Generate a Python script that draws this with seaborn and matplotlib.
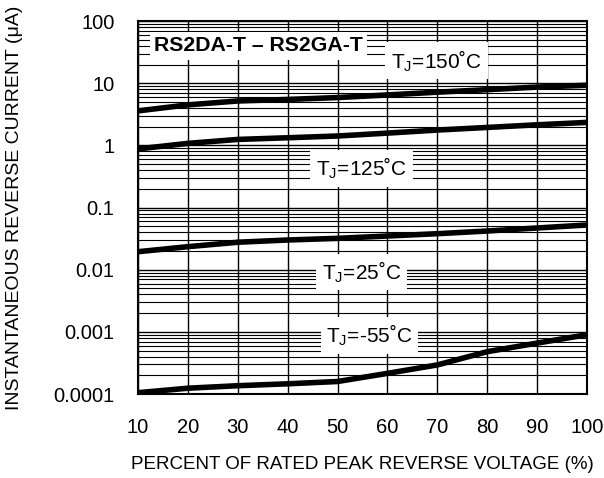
import matplotlib
matplotlib.use("Agg")
import matplotlib.pyplot as plt
import seaborn as sns
import pandas as pd
import numpy as np
from matplotlib.ticker import LogLocator, FixedLocator, NullFormatter

# ---- data ----
voltage_pct = [10, 20, 30, 40, 50, 60, 70, 80, 90, 100]
i_150 = [3.6, 4.5, 5.2, 5.5, 5.9, 6.5, 7.2, 7.9, 8.7, 9.3]
i_125 = [0.88, 1.08, 1.25, 1.33, 1.42, 1.58, 1.77, 1.95, 2.15, 2.35]
i_25 = [0.0195, 0.0235, 0.0277, 0.0301, 0.032, 0.0349, 0.038, 0.042, 0.047, 0.0525]
i_m55 = [0.000105, 0.000124, 0.000136, 0.000146, 0.000159, 0.000215, 0.000294, 0.00048, 0.00066, 0.0009]
series_names = ["150", "125", "25", "-55"]
x_ticks = [10, 20, 30, 40, 50, 60, 70, 80, 90, 100]
y_ticks = [0.0001, 0.001, 0.01, 0.1, 1, 10, 100]
y_tick_labels = ["0.0001", "0.001", "0.01", "0.1", "1", "10", "100"]

df = pd.concat([
    pd.DataFrame({"V": voltage_pct, "I": vals, "T": name})
    for name, vals in zip(series_names, [i_150, i_125, i_25, i_m55])
])

sns.set_style("white")
plt.rcParams["font.family"] = ["Liberation Sans", "DejaVu Sans"]
plt.rcParams["mathtext.fontset"] = "custom"
plt.rcParams["mathtext.rm"] = "Liberation Sans"
plt.rcParams["text.color"] = "black"
plt.rcParams["axes.labelcolor"] = "black"
plt.rcParams["xtick.color"] = "black"
plt.rcParams["ytick.color"] = "black"

fig = plt.figure(figsize=(6.04, 4.78), dpi=100)
ax = fig.add_axes([0.2285, 0.1757, 0.7435, 0.780])

sns.lineplot(data=df, x="V", y="I", hue="T", palette=["black"] * 4,
             linewidth=4.0, legend=False, ax=ax, zorder=3)
for ln in ax.get_lines():
    ln.set_solid_capstyle("butt")

ax.set_yscale("log")
ax.set_xlim(10, 100)
ax.set_ylim(1e-4, 100)
ax.xaxis.set_major_locator(FixedLocator(x_ticks))
ax.set_xticklabels([str(t) for t in x_ticks])
ax.yaxis.set_major_locator(FixedLocator(y_ticks))
ax.set_yticklabels(y_tick_labels)
ax.yaxis.set_minor_locator(LogLocator(base=10, subs=np.arange(2, 10), numticks=100))
ax.yaxis.set_minor_formatter(NullFormatter())

ax.grid(True, which="major", axis="both", color="black", linewidth=1.0, zorder=1)
ax.grid(True, which="minor", axis="y", color="black", linewidth=0.8, zorder=1)
ax.set_axisbelow(True)
ax.tick_params(axis="both", which="both", length=0, labelsize=14.5, pad=17, colors="black")
for s in ax.spines.values():
    s.set_color("black")
    s.set_linewidth(1.5)

ax.set_xlabel("PERCENT OF RATED PEAK REVERSE VOLTAGE (%)", fontsize=13.5, color="black")
ax.set_ylabel("INSTANTANEOUS REVERSE CURRENT (\u03bcA)", fontsize=14, color="black")
ax.xaxis.label.set_va("center")
ax.yaxis.label.set_va("center")
ax.xaxis.set_label_coords(0.5, -0.19)
ax.yaxis.set_label_coords(-0.276, 0.5)

ax.text(13.2, 40, "RS2DA-T \u2013 RS2GA-T", fontsize=15.3, fontweight="bold",
        ha="left", va="center", bbox=dict(facecolor="white", edgecolor="none", pad=3), zorder=4)
labels = [(69.8, 23.0, "150"), (54.8, 0.43, "125"), (54.8, 0.0092, "25"), (56.4, 0.00088, "-55")]
for x, y, t in labels:
    ax.text(x, y, r"T$_{\mathregular{J}}$=" + t + "\u02daC", fontsize=15, ha="center", va="center",
            bbox=dict(facecolor="white", edgecolor="none", pad=4), zorder=4)

fig.savefig("out.png", dpi=100)
